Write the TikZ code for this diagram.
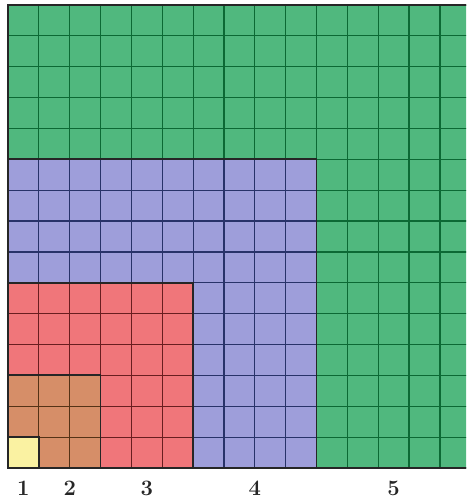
\documentclass[tikz,border=0pt]{standalone}
\definecolor{cgreen}{RGB}{80,184,126}
\definecolor{cgreenl}{RGB}{12,105,52}
\definecolor{cblue}{RGB}{158,158,218}
\definecolor{cbluel}{RGB}{40,50,105}
\definecolor{cred}{RGB}{240,118,122}
\definecolor{credl}{RGB}{105,30,32}
\definecolor{corange}{RGB}{214,142,104}
\definecolor{corangel}{RGB}{85,50,22}
\definecolor{cyellow}{RGB}{250,242,162}
\tikzset{
  gridline/.style={line width=1.2pt},
  border/.style={black!85, line width=1.8pt},
  numlabel/.style={font=\fontsize{22}{22}\selectfont\bfseries, text=black!85}
}
\begin{document}
\begin{tikzpicture}[x=1pt,y=1pt]
\useasboundingbox (0,0) rectangle (466,500);
\clip (0,0) rectangle (466,500);
\fill[white] (0,0) rectangle (466,500);
\begin{scope}[shift={(8pt,32pt)},x=30.85pt,y=30.87pt]
  \fill[cgreen] (0,0) rectangle (15,15);
  \draw[gridline, cgreenl, step=1] (0,0) grid (15,15);
  \fill[cblue] (0,0) rectangle (10,10);
  \draw[gridline, cbluel, step=1] (0,0) grid (10,10);
  \fill[cred] (0,0) rectangle (6,6);
  \draw[gridline, credl, step=1] (0,0) grid (6,6);
  \fill[corange] (0,0) rectangle (3,3);
  \draw[gridline, corangel, step=1] (0,0) grid (3,3);
  \fill[cyellow] (0,0) rectangle (1,1);
  \draw[border] (0,0) rectangle (15,15);
  \draw[border] (0,10) -| (10,0);
  \draw[border] (0,6) -| (6,0);
  \draw[border] (0,3) -| (3,0);
  \draw[border] (0,1) -| (1,0);
  \node[numlabel] (l1) at (0.5,-0.65) {1};
  \node[numlabel] (l2) at (2,-0.65) {2};
  \node[numlabel] (l3) at (4.5,-0.65) {3};
  \node[numlabel] (l4) at (8,-0.65) {4};
  \node[numlabel] (l5) at (12.5,-0.65) {5};
\end{scope}
\end{tikzpicture}
\end{document}
